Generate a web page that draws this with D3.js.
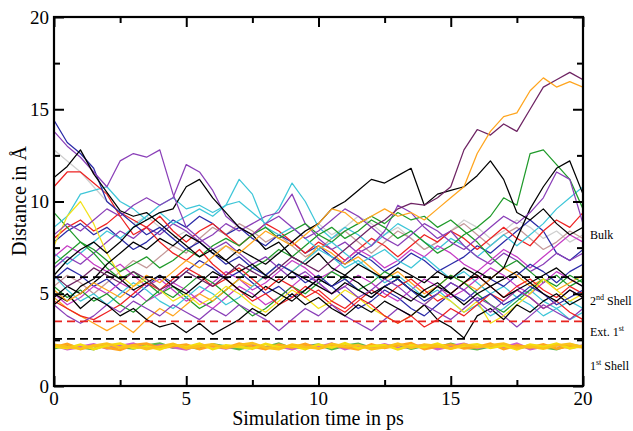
<!DOCTYPE html>
<meta charset="utf-8">
<style>
body { margin: 0; background: #fff; }
svg { display: block; font-family: "Liberation Serif", "DejaVu Serif", serif; }
.traj { fill: none; stroke-width: 1.25; stroke-linejoin: round; }
.shell1 { fill: none; stroke-width: 2.6; }
</style>
<svg width="633" height="431"></svg>
<script src="https://d3js.org/d3.v7.min.js"></script>
<script>

// time grid in ps
var times = [0,0.5,1,1.5,2,2.5,3,3.5,4,4.5,5,5.5,6,6.5,7,7.5,8,8.5,9,9.5,10,
  10.5,11,11.5,12,12.5,13,13.5,14,14.5,15,15.5,16,16.5,17,17.5,18,18.5,19,19.5,20];

// distances in Angstrom, one value per time step
var blackA = [11.3,11.9,12.8,11.5,10.5,9.5,9.2,9.4,8.8,8.2,7.6,7.0,7.4,6.8,6.2,6.6,6.0,5.6,6.2,5.8,5.4,5.0,5.6,5.2,4.8,5.4,5.0,4.6,5.2,5.6,5.0,4.4,5.0,5.4,4.8,5.2,5.6,5.0,4.6,5.2,4.8];
var blackB = [6.0,6.8,7.4,7.8,7.2,7.8,8.6,9.0,9.4,9.6,10.8,11.2,10.2,9.4,8.6,8.2,7.4,7.8,7.0,6.6,7.2,6.4,6.0,6.6,6.2,5.8,6.4,6.0,5.6,6.2,5.8,6.4,6.0,5.4,5.8,6.2,5.6,6.0,6.4,5.8,5.4];
var blackC = [5.0,4.6,5.4,5.8,6.6,7.2,7.8,7.4,8.0,7.6,8.2,7.8,7.2,6.8,7.4,7.0,6.6,7.2,7.8,8.4,8.8,9.6,10.0,10.6,11.2,11.0,11.4,11.8,9.8,10.4,10.6,10.8,11.4,12.2,11.2,9.4,9.0,9.6,8.8,8.2,8.6];
var blackD = [4.8,5.4,5.0,5.6,6.2,5.8,5.2,5.6,6.0,5.4,5.0,5.6,6.2,5.8,5.2,4.8,5.4,5.0,4.6,5.2,5.8,5.4,6.0,5.6,5.0,5.4,5.8,5.2,4.8,5.4,5.0,5.6,6.2,5.8,6.4,8.0,9.6,10.8,11.8,12.2,10.4];
var blackE = [4.4,5.0,4.2,4.8,4.4,3.8,4.2,3.6,3.2,3.4,2.9,3.4,2.8,3.2,3.6,4.2,3.8,4.4,5.0,4.4,4.8,4.2,3.8,4.4,4.0,4.6,4.2,3.8,4.4,3.6,3.2,2.6,3.8,4.2,3.6,4.4,4.0,4.6,5.0,4.4,4.8];
var blueA = [14.4,13.2,12.6,11.8,10.0,9.4,8.8,8.2,8.6,8.0,7.4,7.8,7.2,6.6,7.0,6.4,6.0,6.6,6.2,5.6,6.0,5.4,5.8,5.2,4.8,5.4,5.8,5.2,4.6,5.0,5.6,5.2,4.6,5.0,4.4,4.8,5.4,5.0,4.4,4.8,5.2];
var blueB = [7.8,8.4,8.8,8.2,8.6,8.0,7.4,7.8,8.4,9.0,8.6,9.2,8.8,8.2,8.6,8.0,7.6,8.2,7.8,7.2,7.6,7.0,6.6,7.2,6.8,6.2,6.6,7.2,6.8,6.2,6.6,7.0,7.6,7.2,7.8,8.4,9.0,8.4,7.2,6.8,7.4];
var blueC = [5.8,6.4,6.0,5.4,5.8,5.2,4.8,5.4,6.0,5.6,6.2,6.8,6.4,5.8,6.2,5.6,5.0,5.4,4.8,5.2,5.8,5.4,4.8,4.2,4.6,5.2,4.8,4.2,3.8,4.4,5.0,4.6,5.2,5.8,5.4,6.0,6.6,6.2,5.6,6.2,6.6];
var redA = [10.8,11.6,11.6,11.0,10.4,9.2,8.2,8.6,7.8,7.2,6.8,7.4,6.6,6.0,6.4,5.8,5.2,5.8,5.4,4.8,5.2,4.6,4.2,4.8,4.4,3.8,3.4,3.8,3.2,3.6,4.2,3.8,4.4,5.0,4.6,5.2,4.8,4.2,4.6,4.0,3.6];
var redB = [8.0,8.6,9.0,8.4,8.8,9.4,9.0,8.6,9.2,8.4,7.8,8.4,8.8,8.2,7.6,8.2,8.8,8.4,7.8,7.2,7.8,7.4,6.8,7.4,8.0,7.6,7.0,7.6,8.2,7.8,8.4,8.0,7.4,8.0,8.6,8.0,7.6,8.4,9.0,8.6,9.4];
var redC = [4.6,4.2,3.8,3.6,4.0,4.4,5.0,5.6,5.2,5.8,6.4,6.0,5.4,5.8,5.2,4.6,5.0,4.4,4.8,5.4,5.0,4.4,4.0,4.6,5.2,4.8,5.4,5.8,5.2,4.6,5.0,5.6,6.0,5.4,4.8,5.4,5.8,5.2,4.8,5.4,5.0];
var greenA = [6.6,7.2,7.8,7.4,6.8,6.2,6.6,7.0,6.4,6.8,7.4,7.0,7.6,8.0,7.6,8.2,8.6,8.0,8.4,8.8,8.2,8.6,8.0,8.4,9.0,8.6,8.0,8.4,7.8,7.2,7.6,8.2,8.6,9.2,10.2,9.8,12.6,12.8,12.0,11.2,9.6];
var greenB = [9.4,8.6,7.8,7.2,6.4,5.8,6.2,5.6,5.0,5.4,4.8,4.2,4.6,5.2,5.8,6.4,6.8,7.4,7.0,7.6,8.2,7.8,8.4,8.8,9.2,8.8,9.4,9.0,9.2,8.6,9.0,8.4,7.8,7.0,6.4,6.8,6.2,5.6,6.0,5.4,5.8];
var greenC = [5.4,4.8,5.2,4.6,5.0,4.4,4.0,4.6,5.2,4.8,5.4,6.0,5.6,5.0,4.4,3.8,4.2,4.8,5.4,5.0,5.6,6.2,5.8,5.2,5.6,6.2,5.8,5.2,4.8,5.4,6.0,5.6,5.0,4.4,4.0,4.6,5.2,5.8,5.4,6.0,5.6];
var yellowA = [7.6,9.2,10.0,8.8,7.2,6.0,5.4,5.8,5.2,4.6,5.0,4.4,4.8,5.4,5.0,4.4,4.0,4.6,5.2,4.8,4.2,4.6,5.2,4.8,4.2,3.8,3.4,3.8,4.4,5.0,4.6,4.0,4.6,3.4,3.8,4.4,5.0,5.8,5.2,4.6,5.0];
var orangeA = [5.2,4.6,5.0,5.6,5.2,4.8,5.4,6.0,5.6,6.2,6.8,6.4,7.0,7.6,7.2,7.8,8.4,8.0,7.6,8.2,8.8,9.6,9.4,8.8,9.2,9.6,9.2,9.4,9.0,9.6,10.2,10.8,12.6,13.8,14.6,14.8,16.0,16.7,16.2,16.5,16.2];
var orangeB = [4.8,4.2,3.8,3.4,3.0,3.4,2.9,3.6,4.2,3.8,4.4,5.0,4.6,5.2,5.8,5.4,6.0,6.6,6.2,6.8,7.6,7.2,6.6,7.0,6.4,5.8,6.2,5.6,5.0,5.4,6.0,5.6,5.2,5.8,6.4,6.0,5.4,5.8,5.2,5.6,6.0];
var maroonA = [6.0,5.4,5.8,6.4,6.0,5.6,6.2,5.8,5.2,5.6,6.2,5.8,5.4,6.0,6.6,6.2,5.8,6.4,7.0,6.6,6.2,6.8,7.4,8.0,8.6,9.0,9.6,9.9,9.8,10.2,10.8,12.8,13.9,13.6,14.2,13.8,15.0,16.2,16.6,17.0,16.6];
var violetA = [13.8,13.0,12.4,11.6,10.8,12.2,12.6,12.4,12.8,10.4,8.6,8.0,7.4,7.8,7.2,6.6,7.0,6.4,5.8,6.2,5.6,5.0,5.4,4.8,5.2,5.8,5.4,4.8,4.4,5.0,5.6,5.2,4.6,4.0,4.6,5.2,4.8,4.2,4.6,5.2,4.8];
var violetB = [8.2,8.8,8.4,9.0,9.6,9.2,9.8,10.2,9.8,10.2,12.0,11.6,10.6,9.2,8.6,8.2,8.8,9.2,8.6,8.0,8.4,9.0,9.6,9.2,8.6,8.0,7.6,8.2,8.8,8.4,7.8,7.4,8.0,8.6,9.2,8.8,9.4,10.2,11.6,11.2,8.8];
var violetC = [6.4,7.0,6.6,7.2,7.8,8.4,8.0,8.6,8.2,8.8,8.4,7.8,8.2,8.8,8.4,8.8,9.2,9.4,10.4,8.8,8.0,7.4,7.8,7.2,7.6,8.4,9.8,9.4,8.6,8.0,8.4,7.6,7.0,6.6,7.2,6.8,6.2,6.6,7.2,6.8,7.2];
var violetD = [4.4,3.8,3.4,3.8,4.4,4.0,4.6,4.2,3.8,4.4,4.0,3.6,4.2,3.8,4.4,4.0,3.6,3.0,3.6,4.2,3.8,4.4,3.8,3.4,3.0,3.6,4.2,3.8,4.4,4.0,3.6,4.2,4.8,4.4,3.8,3.2,3.8,4.4,4.0,3.6,4.2];
var cyanA = [8.6,9.2,10.4,10.6,10.8,10.0,9.6,9.0,9.4,8.8,9.2,9.6,9.2,9.8,11.2,10.4,8.6,8.2,8.6,8.0,7.4,7.8,7.2,6.6,7.0,7.4,6.8,6.4,7.0,6.4,5.8,6.2,5.6,5.0,5.4,4.8,5.2,4.6,4.2,4.6,4.2];
var cyanB = [7.2,6.6,7.2,7.8,8.4,8.0,8.6,9.2,9.8,10.2,9.6,9.8,9.4,9.8,10.0,9.4,8.8,9.6,11.0,10.0,8.6,8.0,8.6,8.2,7.6,8.2,8.8,8.4,7.8,7.4,8.0,7.6,7.0,7.6,8.2,7.6,8.2,8.8,9.6,10.2,10.8];
var cyanC = [6.0,5.2,4.6,5.0,4.4,5.0,5.6,5.2,4.6,4.2,4.8,5.4,5.0,4.4,4.8,5.4,6.0,6.6,6.2,6.8,7.4,7.0,6.4,6.8,6.2,5.6,6.0,5.4,4.8,5.2,4.6,4.0,4.4,3.8,4.2,4.8,4.4,3.8,4.2,3.6,4.0];
var magentaA = [5.0,4.4,4.8,5.4,5.0,5.6,5.2,4.6,5.0,5.6,5.2,4.6,4.2,4.8,5.4,5.0,4.4,4.8,5.4,6.0,5.6,5.0,5.4,6.0,5.6,5.0,4.6,5.2,5.8,5.4,4.8,5.2,5.8,6.4,6.0,5.4,5.0,5.6,6.2,5.8,5.4];
var magentaB = [7.0,7.6,7.2,6.6,6.2,6.6,6.0,5.4,5.8,5.2,4.6,5.0,5.6,6.2,5.8,5.2,5.6,6.2,6.8,6.4,5.8,6.2,6.8,7.4,7.0,6.4,6.8,7.4,7.0,7.6,7.2,6.6,6.2,6.8,7.4,7.0,6.4,7.0,7.6,8.2,7.8];
var brownA = [5.4,6.0,5.6,5.0,5.6,6.2,6.8,6.4,7.0,7.6,7.2,8.0,8.6,8.2,8.8,8.4,7.8,8.2,7.6,7.0,7.4,8.0,8.4,7.8,7.2,7.8,8.4,8.0,7.4,7.8,8.4,8.8,8.2,7.6,8.2,8.6,8.0,7.4,7.8,8.4,8.0];
var greyA = [12.8,12.2,11.6,10.8,10.0,9.4,8.8,9.2,8.6,8.0,8.4,7.8,7.2,7.6,7.0,6.4,6.8,7.2,7.8,8.4,8.8,8.2,8.6,9.2,8.8,8.2,8.6,8.0,7.4,7.8,8.4,9.0,8.6,8.0,8.4,9.0,8.6,8.0,8.4,7.8,8.2];

// first coordination shell
var shellYellow = [2.15,2.05,2.25,2.0,2.2,2.3,2.05,2.15,1.98,2.25,2.1,2.3,2.0,2.2,2.12,2.02,2.28,2.1,2.18,2.0,2.25,2.08,2.32,2.05,2.15,2.22,1.98,2.2,2.1,2.3,2.02,2.18,2.26,2.06,2.2,1.98,2.24,2.12,2.3,2.04,2.18];
var shellOrange = [2.1,2.28,2.0,2.2,2.08,1.96,2.22,2.3,2.05,2.15,2.25,2.0,2.18,2.06,2.3,2.14,2.0,2.24,2.08,2.28,2.02,2.2,2.1,1.98,2.26,2.06,2.2,2.32,2.0,2.14,2.24,2.04,2.12,2.3,2.0,2.2,2.08,2.26,2.02,2.16,2.1];
var shellMagenta = [2.2,2.0,2.12,2.26,2.04,2.16,2.3,2.02,2.2,2.1,1.98,2.24,2.14,2.04,2.2,2.28,2.06,2.16,2.0,2.22,2.12,2.3,2.0,2.18,2.08,2.26,2.04,2.14,2.22,2.0,2.16,2.28,2.06,2.2,2.1,2.3,2.0,2.14,2.22,2.06,2.2];
var shellGreen = [2.05,2.2,2.1,2.0,2.24,2.12,2.04,2.2,2.3,2.08,2.16,2.02,2.26,2.14,2.0,2.2,2.1,2.3,2.04,2.14,2.24,2.0,2.18,2.28,2.06,2.12,2.24,2.02,2.18,2.08,2.28,2.1,2.0,2.16,2.26,2.04,2.2,2.1,2.0,2.24,2.12];
var shellYellow2 = [2.24,2.12,2.02,2.18,2.3,2.08,2.2,2.0,2.14,2.28,2.04,2.16,2.26,2.06,2.22,2.32,2.08,2.0,2.24,2.12,2.04,2.28,2.14,2.22,2.0,2.1,2.3,2.06,2.24,2.16,2.02,2.26,2.1,2.2,2.3,2.06,2.14,2.02,2.2,2.28,2.1];

var trajectories = [
  [greyA, "#cfcfcf"], [brownA, "#c49a9a"], [blueB, "#2b2ba8"], [redB, "#ee2222"],
  [cyanB, "#3ec6d8"], [violetC, "#8a3fb8"], [greenB, "#1f9a2a"], [magentaB, "#c53cc5"],
  [cyanA, "#3ec6d8"], [greenA, "#1f9a2a"], [blueC, "#2b2ba8"], [orangeB, "#ffa51e"],
  [magentaA, "#c53cc5"], [cyanC, "#3ec6d8"], [greenC, "#1f9a2a"], [redC, "#ee2222"],
  [violetD, "#8a3fb8"], [yellowA, "#f2e21a"], [blackE, "#000000"], [blackD, "#000000"],
  [violetB, "#8a3fb8"], [redA, "#ee2222"], [blueA, "#2b2ba8"], [blackB, "#000000"],
  [violetA, "#8a3fb8"], [blackA, "#000000"], [blackC, "#000000"],
  [maroonA, "#6e2463"], [orangeA, "#ffa51e"]
];
var shell = [
  [shellGreen, "#5cb848"], [shellMagenta, "#d060c8"],
  [shellOrange, "#ffa51e"], [shellYellow, "#f4dc10"], [shellYellow2, "#fbc21a"]
];

// shell boundaries
var boundaries = [[5.9, "#000"], [3.5, "#e8231f"], [2.55, "#000"]];
var shellLabels = [["Bulk", "", "", 8.2], ["2", "nd", " Shell", 4.6], ["Ext. 1", "st", "", 2.9], ["1", "st", " Shell", 1.1]];

var svg = d3.select("svg");
var x = d3.scaleLinear().domain([0, 20]).range([54, 583]);
var y = d3.scaleLinear().domain([0, 20]).range([386, 17]);

svg.append("defs").append("clipPath").attr("id", "clip")
  .append("rect").attr("x", 54).attr("y", 17).attr("width", 529).attr("height", 369);

var line = d3.line()
  .x(function(d, i) { return x(times[i]); })
  .y(function(d) { return y(d); });

var plot = svg.append("g").attr("clip-path", "url(#clip)");

plot.selectAll("path.traj")
  .data(trajectories)
  .enter().append("path")
    .attr("class", "traj")
    .attr("stroke", function(d) { return d[1]; })
    .attr("d", function(d) { return line(d[0]); });

plot.selectAll("path.shell1")
  .data(shell)
  .enter().append("path")
    .attr("class", "shell1")
    .attr("stroke", function(d) { return d[1]; })
    .attr("d", function(d) { return line(d[0]); });

plot.selectAll("line.bound")
  .data(boundaries)
  .enter().append("line")
    .attr("class", "bound")
    .attr("x1", x(0)).attr("x2", x(20))
    .attr("y1", function(d) { return y(d[0]); })
    .attr("y2", function(d) { return y(d[0]); })
    .attr("stroke", function(d) { return d[1]; })
    .attr("stroke-width", 1.8)
    .attr("stroke-dasharray", "8,5");

// axes: ticks inward on all four sides
var majors = [0, 5, 10, 15, 20];
var minors = [2.5, 7.5, 12.5, 17.5];

svg.append("g").attr("transform", "translate(0,386)")
  .call(d3.axisBottom(x).tickValues(majors).tickSize(-10).tickFormat(""));
svg.append("g").attr("transform", "translate(0,386)")
  .call(d3.axisBottom(x).tickValues(minors).tickSize(-6).tickFormat(""));
svg.append("g").attr("transform", "translate(0,17)")
  .call(d3.axisTop(x).tickValues(majors).tickSize(-10).tickFormat(""));
svg.append("g").attr("transform", "translate(0,17)")
  .call(d3.axisTop(x).tickValues(minors).tickSize(-6).tickFormat(""));
svg.append("g").attr("transform", "translate(54,0)")
  .call(d3.axisLeft(y).tickValues(majors).tickSize(-10).tickFormat(""));
svg.append("g").attr("transform", "translate(54,0)")
  .call(d3.axisLeft(y).tickValues(minors).tickSize(-6).tickFormat(""));
svg.append("g").attr("transform", "translate(583,0)")
  .call(d3.axisRight(y).tickValues(majors).tickSize(-10).tickFormat(""));
svg.append("g").attr("transform", "translate(583,0)")
  .call(d3.axisRight(y).tickValues(minors).tickSize(-6).tickFormat(""));

svg.selectAll(".domain").remove();
svg.selectAll(".tick line").attr("stroke", "#000").attr("stroke-width", 2);

svg.append("rect")
  .attr("x", 54).attr("y", 17).attr("width", 529).attr("height", 369)
  .attr("fill", "none").attr("stroke", "#000").attr("stroke-width", 2.2);

// tick labels
svg.selectAll("text.xl")
  .data(majors)
  .enter().append("text")
    .attr("x", function(d) { return x(d); })
    .attr("y", 405)
    .attr("text-anchor", "middle")
    .attr("font-size", 19)
    .text(function(d) { return d; });

svg.selectAll("text.yl")
  .data(majors)
  .enter().append("text")
    .attr("x", 49)
    .attr("y", function(d) { return y(d) + 6.5; })
    .attr("text-anchor", "end")
    .attr("font-size", 19)
    .text(function(d) { return d; });

svg.append("text")
  .attr("x", 318).attr("y", 425)
  .attr("text-anchor", "middle")
  .attr("font-size", 20)
  .text("Simulation time in ps");

svg.append("text")
  .attr("transform", "translate(26,201) rotate(-90)")
  .attr("text-anchor", "middle")
  .attr("font-size", 20)
  .text("Distance in Å");

// shell labels at the right margin
var lab = svg.selectAll("text.shl")
  .data(shellLabels)
  .enter().append("text")
    .attr("x", 590)
    .attr("y", function(d) { return y(d[3]) + 4; })
    .attr("font-size", 12);
lab.append("tspan").text(function(d) { return d[0]; });
lab.append("tspan").attr("dy", -5).attr("font-size", 8).text(function(d) { return d[1]; });
lab.append("tspan").attr("dy", 5).text(function(d) { return d[2]; });

</script>
